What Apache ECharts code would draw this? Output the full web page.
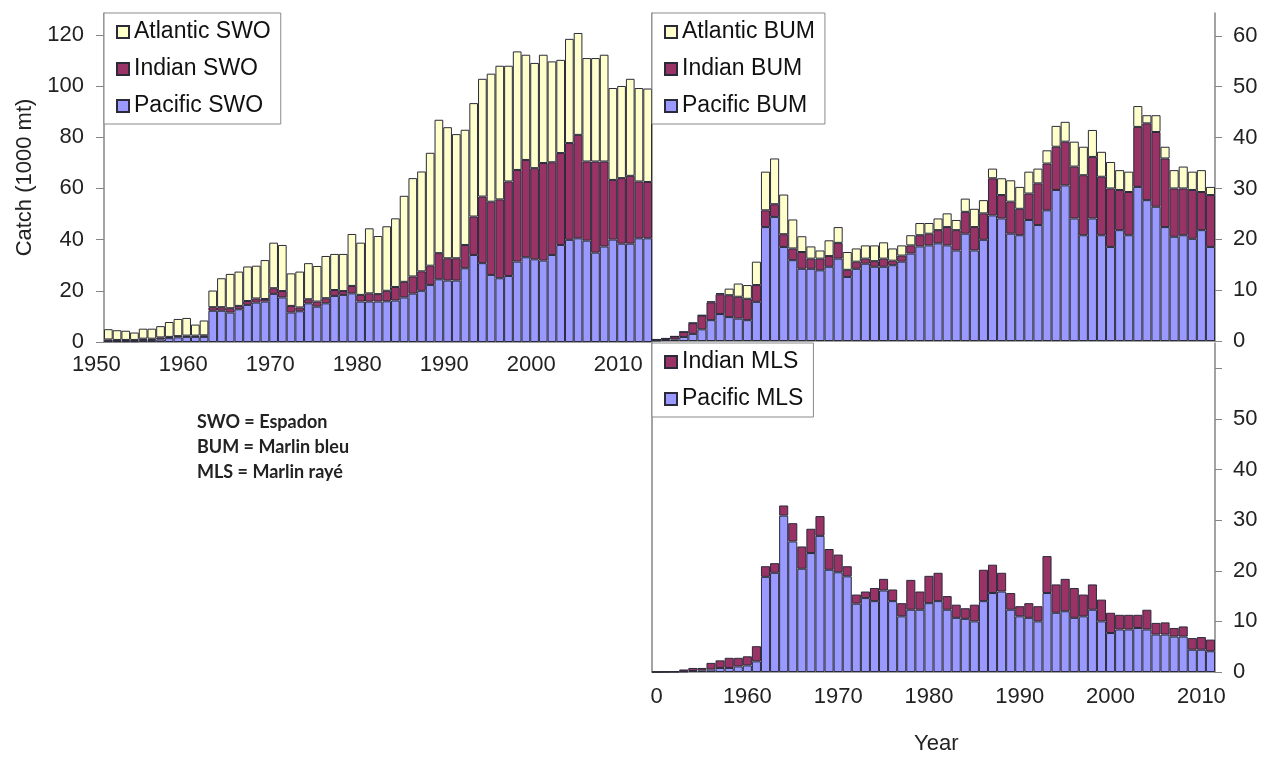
<!DOCTYPE html>
<html>
<head>
<meta charset="utf-8">
<title>Swordfish and marlin catch</title>
<script src="https://cdn.jsdelivr.net/npm/echarts@6/dist/echarts.min.js"></script>
<style>
  html, body { margin: 0; padding: 0; background: #fff; }
  #main { width: 1266px; height: 762px; }
</style>
</head>
<body>
<div id="main"></div>
<script>
// swordfish 1950-2012, marlins 1950-2011 (1000 mt)
var swoYears = [];
for (var y = 1950; y <= 2012; y++) swoYears.push(String(y));
var marlinYears = swoYears.slice(0, 62);

var swoPacific = [0.3,0.3,0.3,0.3,0.8,0.8,1.0,1.5,1.8,2.0,2.0,2.0,
  12.2,12.2,11.5,12.8,14.5,15.4,15.8,18.8,17.4,
  11.5,12.0,15.1,13.8,15.1,18.0,18.4,19.0,15.8,15.8,
  15.8,15.9,16.2,17.4,18.9,20.0,22.3,24.5,24.0,24.0,
  28.8,34.0,30.8,26.2,24.9,25.8,31.4,33.1,32.3,31.8,
  34.0,37.9,39.9,40.5,39.6,34.9,37.3,40.0,38.4,38.4,40.5,40.5];
var swoIndian = [0.7,0.5,0.5,0.5,0.5,0.5,0.8,0.5,0.5,0.5,0.5,0.6,
  1.4,1.4,1.7,1.3,1.5,1.6,1.0,2.2,2.5,
  2.6,1.5,1.6,2.0,2.0,2.3,1.5,2.9,2.6,3.2,
  2.9,4.1,5.3,6.1,6.7,7.6,7.5,10.2,8.7,8.7,
  9.1,15.0,26.0,28.6,30.8,36.9,35.8,38.0,35.6,38.1,
  36.2,35.9,37.8,40.4,30.9,35.6,33.2,23.3,25.6,26.5,22.2,22.0];
var swoAtlantic = [4.0,3.8,3.6,2.9,3.9,3.9,4.4,5.8,6.7,6.9,4.3,5.8,
  6.5,11.3,13.4,13.4,13.5,12.8,15.2,17.8,18.0,
  12.7,14.0,14.1,13.9,16.5,14.1,14.5,20.3,20.4,25.4,
  22.7,25.2,26.8,33.6,38.4,39.0,44.1,52.1,51.2,48.5,
  45.0,44.3,46.0,50.0,52.2,45.2,46.3,41.1,41.1,42.3,
  39.4,36.4,40.7,39.8,40.4,40.4,41.7,35.9,36.0,37.9,36.5,36.5];

var bumPacific = [0.1,0.2,0.3,0.8,1.4,2.3,4.1,5.3,4.7,4.4,4.1,7.7,
  22.4,24.4,18.5,15.9,14.2,14.2,13.9,14.6,16.2,
  12.6,14.2,15.2,14.6,14.6,14.9,15.6,17.2,18.6,18.8,
  19.2,18.8,17.8,21.1,17.8,19.9,24.7,24.1,21.1,20.8,
  23.8,22.8,25.7,29.7,30.6,24.1,20.8,24.1,20.8,18.5,
  21.8,20.8,30.3,27.7,26.4,22.4,20.5,20.8,20.1,21.8,18.5];
var bumIndian = [0.2,0.3,0.6,1.0,2.1,2.7,3.5,3.9,4.3,4.3,4.2,3.3,
  3.3,2.5,2.5,2.3,3.3,2.0,2.3,2.1,3.1,
  1.4,1.4,1.0,1.1,1.6,0.9,1.2,1.6,2.2,2.3,
  2.6,3.6,4.0,4.3,4.6,5.2,7.3,4.6,6.3,5.2,
  5.2,8.2,9.2,8.5,8.6,10.2,11.8,12.1,11.5,11.5,
  7.9,8.5,11.8,15.1,14.7,13.5,9.5,9.2,9.6,7.5,10.2];
var bumAtlantic = [0,0,0,0,0.1,0.1,0.2,0.2,1.3,2.6,2.7,4.6,
  7.6,9.0,7.8,5.7,3.1,2.4,1.6,3.1,3.1,
  3.5,2.6,2.6,3.1,3.2,2.4,2.0,2.0,2.4,2.1,
  2.3,2.7,2.0,2.6,3.6,2.6,1.9,3.3,4.2,4.3,
  4.3,2.9,2.6,4.1,3.9,4.9,5.6,5.3,4.9,5.2,
  3.9,4.0,4.1,1.6,3.3,2.3,3.6,4.3,3.6,4.3,1.6];

var mlsPacific = [0,0,0,0.1,0.2,0.3,0.5,0.8,0.8,1.1,1.3,2.1,
  18.8,19.6,30.9,25.8,20.4,23.5,26.9,20.2,19.7,
  18.9,13.5,14.6,14.0,16.1,14.0,11.0,12.3,12.3,13.6,
  14.0,12.3,10.7,10.5,10.0,14.0,15.6,15.9,12.3,11.0,
  10.7,10.0,15.6,11.7,12.0,10.7,11.0,12.3,10.0,7.7,
  8.4,8.4,8.7,8.4,7.4,7.4,7.0,7.0,4.4,4.4,4.1];
var mlsIndian = [0,0.1,0.2,0.4,0.6,0.5,1.3,1.5,2.0,1.7,1.8,3.0,
  2.1,1.9,2.0,3.6,4.4,4.8,3.9,4.1,3.5,
  2.0,1.8,1.3,2.6,2.3,2.3,2.6,5.9,3.6,5.4,
  5.6,2.7,2.6,2.1,3.3,6.2,5.6,3.7,3.3,2.0,
  2.9,3.0,7.3,5.6,6.4,5.9,4.3,5.0,4.3,4.0,
  2.9,2.9,2.6,3.9,2.3,2.4,1.7,2.0,2.3,2.5,2.3];

var cPacific = '#9999ff';
var cIndian = '#993366';
var cAtlantic = '#ffffcc';
var font = 'Liberation Sans, Arial, sans-serif';
var axisGrey = '#858585';

function bar(name, data, color, idx, stack) {
  return {
    name: name, type: 'bar', stack: stack,
    xAxisIndex: idx, yAxisIndex: idx,
    data: data,
    barCategoryGap: '0%',
    itemStyle: { color: color, borderColor: '#2a2a3a', borderWidth: 1 },
    emphasis: { disabled: true }
  };
}

function xAxis(idx, cats, tickAt, labels, shift, margin) {
  return {
    type: 'category', gridIndex: idx, data: cats,
    axisLine: { lineStyle: { color: axisGrey, width: 1.5 } },
    axisTick: {
      length: 7, lineStyle: { color: axisGrey },
      interval: function (i) { return i % 10 === tickAt; }
    },
    axisLabel: {
      show: labels, fontSize: 22, color: '#222', fontFamily: font, margin: margin,
      padding: [0, shift, 0, 0],
      interval: function (i) { return i % 10 === 0; },
      formatter: function (v, i) { return (idx === 2 && i === 0) ? '0' : v; }
    }
  };
}

function legend(items, left, top) {
  return {
    data: items, orient: 'vertical', left: left, top: top,
    backgroundColor: '#fff',
    borderColor: '#8a8a8a', borderWidth: 1, borderRadius: 0,
    padding: [7, 10, 6, 12],
    itemWidth: 12, itemHeight: 12, itemGap: 13,
    icon: 'rect', selectedMode: false,
    textStyle: { fontSize: 23, lineHeight: 24, color: '#111', fontFamily: font }
  };
}

var chart = echarts.init(document.getElementById('main'));

var option = {
  animation: false,
  backgroundColor: '#fff',
  textStyle: { fontFamily: font },
  grid: [
    { left: 104, top: 13, width: 548, height: 329 },
    { left: 652, top: 13, width: 563, height: 328 },
    { left: 652, top: 343, width: 563, height: 329 }
  ],
  legend: [
    legend(['Atlantic SWO', 'Indian SWO', 'Pacific SWO'], 104, 13),
    legend(['Atlantic BUM', 'Indian BUM', 'Pacific BUM'], 652, 13),
    legend(['Indian MLS', 'Pacific MLS'], 652, 343)
  ],
  xAxis: [
    xAxis(0, swoYears, 1, true, 24, 12),
    xAxis(1, marlinYears, 0, false, 0, 12),
    xAxis(2, marlinYears, 0, true, 0, 14)
  ],
  yAxis: [
    {
      type: 'value', gridIndex: 0, position: 'left', min: 0, max: 128.5, interval: 20,
      name: 'Catch (1000 mt)', nameLocation: 'middle', nameGap: 68,
      nameTextStyle: { fontSize: 22, color: '#222', fontFamily: font },
      axisLine: { show: true, lineStyle: { color: axisGrey, width: 1.5 } },
      axisTick: { show: true, length: 8, lineStyle: { color: axisGrey } },
      axisLabel: { fontSize: 22, color: '#222', margin: 20, showMaxLabel: false },
      splitLine: { show: false }
    },
    {
      type: 'value', gridIndex: 1, position: 'right', min: 0, max: 64.5, interval: 10,
      axisLine: { show: true, lineStyle: { color: axisGrey, width: 1.5 } },
      axisTick: { show: true, length: 7, lineStyle: { color: axisGrey } },
      axisLabel: { fontSize: 22, color: '#222', margin: 18, showMaxLabel: false },
      splitLine: { show: false }
    },
    {
      type: 'value', gridIndex: 2, position: 'right', min: 0, max: 65, interval: 10,
      axisLine: { show: true, lineStyle: { color: axisGrey, width: 1.5 } },
      axisTick: { show: true, length: 7, lineStyle: { color: axisGrey } },
      axisLabel: {
        fontSize: 22, color: '#222', margin: 18, showMaxLabel: false,
        formatter: function (v) { return v === 60 ? '' : v; }
      },
      splitLine: { show: false }
    },
    // plain left edges of the two marlin panels
    {
      type: 'value', gridIndex: 1, position: 'left', min: 0, max: 64.5,
      axisLine: { show: true, lineStyle: { color: axisGrey, width: 1.5 } },
      axisTick: { show: false }, axisLabel: { show: false }, splitLine: { show: false }
    },
    {
      type: 'value', gridIndex: 2, position: 'left', min: 0, max: 65,
      axisLine: { show: true, lineStyle: { color: axisGrey, width: 1.5 } },
      axisTick: { show: false }, axisLabel: { show: false }, splitLine: { show: false }
    }
  ],
  graphic: [
    {
      type: 'text', left: 197, top: 410,
      style: {
        text: 'SWO = Espadon\nBUM = Marlin bleu\nMLS = Marlin rayé',
        font: 'bold 18px Lato, "Open Sans", sans-serif',
        lineHeight: 25, fill: '#222'
      }
    },
    {
      type: 'text', left: 914, top: 733,
      style: { text: 'Year', font: '22px ' + font, fill: '#222' }
    }
  ],
  series: [
    bar('Pacific SWO', swoPacific, cPacific, 0, 'swo'),
    bar('Indian SWO', swoIndian, cIndian, 0, 'swo'),
    bar('Atlantic SWO', swoAtlantic, cAtlantic, 0, 'swo'),
    bar('Pacific BUM', bumPacific, cPacific, 1, 'bum'),
    bar('Indian BUM', bumIndian, cIndian, 1, 'bum'),
    bar('Atlantic BUM', bumAtlantic, cAtlantic, 1, 'bum'),
    bar('Pacific MLS', mlsPacific, cPacific, 2, 'mls'),
    bar('Indian MLS', mlsIndian, cIndian, 2, 'mls')
  ]
};

chart.setOption(option);
</script>
</body>
</html>
